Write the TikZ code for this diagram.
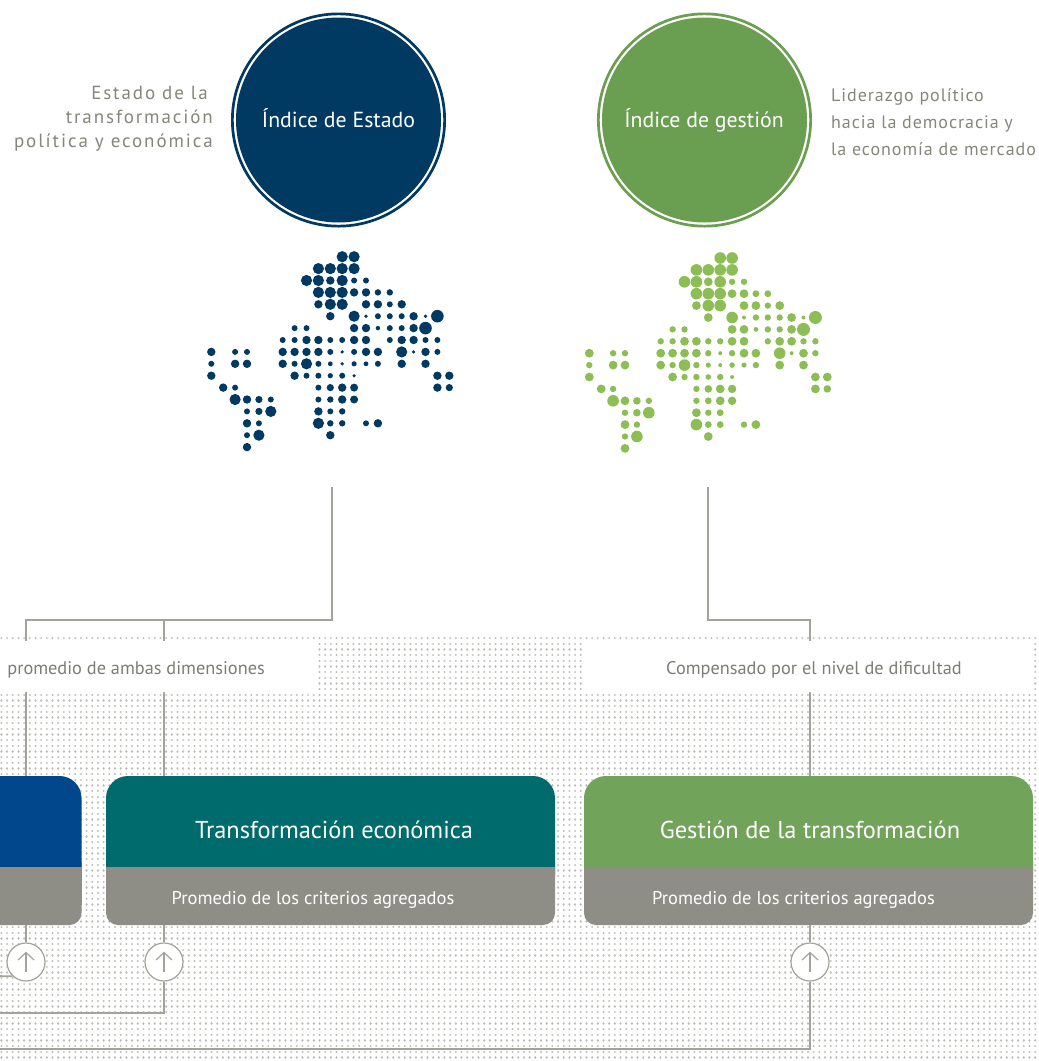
\documentclass[tikz,border=0pt]{standalone}
\usepackage{fontspec}
\setmainfont{PT Sans}
\newfontfamily\sideL[LetterSpace=10]{PT Sans}
\newfontfamily\sideR[LetterSpace=5.2]{PT Sans}
\usetikzlibrary{calc}
\definecolor{navy}{HTML}{003962}
\definecolor{boxblue}{HTML}{00478B}
\definecolor{tealc}{HTML}{006B6C}
\definecolor{greenc}{HTML}{6A9E50}
\definecolor{greenmap}{HTML}{8DBE55}
\definecolor{greenbox}{HTML}{72A35A}
\definecolor{grayc}{HTML}{8F8E86}
\definecolor{sidec}{HTML}{86867C}
\definecolor{bandc}{HTML}{7D7D75}
\definecolor{linec}{HTML}{A3A39B}
\definecolor{dotc}{HTML}{BEBEB8}
\def\maplist{0/{11/5.6,12/5.6},
1/{9/5.6,10/5.6,11/5.6,12/5.6},
2/{8/5.6,9/5.6,10/4.2,11/5.6,12/3.0,13/3.0},
3/{9/5.6,10/5.6,11/5.6,12/4.2,13/4.2,14/3.2,15/3.2},
4/{9/4.2,10/5.6,11/5.6,13/4.2,14/4.2,15/3.0,16/4.2},
5/{10/4.2,12/5.6,13/1.8,14/3.0,15/3.0,16/3.0,17/4.2,18/1.8,19/6.3},
6/{7/3.0,8/3.0,12/4.2,13/4.2,14/2.2,15/3.0,16/3.0,17/4.2,18/6.3},
7/{6/3.0,7/3.0,8/4.2,9/4.2,10/3.0,11/3.0,12/4.2,13/4.2,15/3.0,16/4.2,17/4.2,18/3.0,19/3.0},
8/{0/4.2,2/3.0,3/3.0,6/4.2,7/4.2,8/4.2,9/4.2,10/3.0,11/1.8,12/3.0,13/4.2,14/4.2,16/5.6,17/1.8,18/4.2,19/3.0},
9/{0/3.0,2/4.2,3/4.2,6/4.2,7/3.0,8/5.6,9/3.0,10/2.4,11/1.8,12/2.6,13/2.4,14/3.0,16/4.2,18/4.2},
10/{0/4.2,7/4.2,8/3.0,9/3.0,10/2.6,11/3.0,12/1.8,19/4.2,20/4.2},
11/{1/4.2,2/3.0,9/3.0,10/3.6,11/4.2,12/4.0,19/4.2,20/3.6},
12/{2/5.6,3/4.2,4/3.6,5/3.0,9/3.0,10/3.2,11/4.2,12/4.0},
13/{3/3.0,4/3.6,5/5.6,9/4.2,10/3.0,11/3.2},
14/{3/4.2,4/3.0,9/5.6,10/3.2,11/3.2,13/3.0,14/4.2},
15/{3/3.0,4/5.6,10/4.2},
16/{3/4.2}}
\newcommand\dotmap[4]{%
  \foreach \r/\row in \maplist {%
    \foreach \c/\s in \row {%
      \fill[#3] ({#1+\c*11.9},{#2+\r*11.9}) circle[radius={\s+#4}];
    }%
  }%
}
\tikzset{
  conn/.style={draw=linec, line width=1.8pt},
  dotrow/.style={draw=dotc, line width=2.3pt, line cap=round, dash pattern=on 0.01pt off 5.67pt},
  ring/.style={circle, draw=#1, line width=2.7pt, minimum size=212.3pt, inner sep=0pt, outer sep=0pt},
  disc/.style={circle, fill=#1, minimum size=205pt, inner sep=0pt, outer sep=0pt},
  boxanchor/.style={rectangle, inner sep=0pt, outer sep=0pt},
  titlew/.style={text=white, inner sep=0pt, font=\fontsize{21.8}{24}\selectfont},
  boxtitle/.style={text=white, inner sep=0pt, font=\fontsize{24.4}{28}\selectfont},
  boxsub/.style={text=white, inner sep=0pt, font=\fontsize{18.5}{22}\selectfont},
  bandtext/.style={text=bandc, inner sep=0pt, font=\fontsize{18.3}{22}\selectfont},
  sidetxtL/.style={text=sidec, inner sep=0pt, font=\sideL\fontsize{19}{22}\selectfont},
  sidetxtR/.style={text=sidec, inner sep=0pt, font=\sideR\fontsize{18}{22}\selectfont},
  upcirc/.style={circle, draw=linec, line width=1.2pt, fill=white, minimum size=38pt, inner sep=0pt,
    path picture={
      \draw[linec, line width=1.2pt] ([yshift=-9.5pt]path picture bounding box.center) -- ([yshift=9.5pt]path picture bounding box.center);
      \draw[linec, line width=1.2pt, line join=miter] ([xshift=-8pt,yshift=2pt]path picture bounding box.center) -- ([yshift=9.5pt]path picture bounding box.center) -- ([xshift=8pt,yshift=2pt]path picture bounding box.center);
    }},
}
\begin{document}
\begin{tikzpicture}[x=1pt,y=-1pt]
\useasboundingbox (0,0) rectangle (1039,1061);
\clip (0,0) rectangle (1039,1061);
\fill[white] (0,0) rectangle (1039,1061);

% dotted background
\foreach \k in {0,...,74} {
  \draw[dotrow] (1.4,{638+\k*5.67}) -- (1036,{638+\k*5.67});
}

% top circles
\node[ring=navy] (ringE) at (338.5,120) {};
\node[disc=navy] (discE) at (338.5,120) {};
\node[titlew, anchor=base] (textE) at (338.5,127.7) {Índice de Estado};
\node[ring=greenc] (ringG) at (704.5,120) {};
\node[disc=greenc] (discG) at (704.5,120) {};
\node[titlew, anchor=base] (textG) at (704,127.3) {Índice de gestión};

% side texts
\node[sidetxtL, anchor=base east] (sl1) at (208,99) {Estado de la};
\node[sidetxtL, anchor=base east] (sl2) at (213,123.3) {transformación};
\node[sidetxtL, anchor=base east] (sl3) at (213,147.3) {política y económica};
\node[sidetxtR, anchor=base west] (sr1) at (831,101) {Liderazgo político};
\node[sidetxtR, anchor=base west] (sr2) at (831,128) {hacia la democracia y};
\node[sidetxtR, anchor=base west] (sr3) at (831,155) {la economía de mercado};

% dot maps
\dotmap{211.3}{256.7}{navy}{0}
\dotmap{589.3}{258}{greenmap}{0.2}

% box anchors
\node[boxanchor, minimum width=451.5pt, minimum height=149pt] (pobox) at (-144.25,850.5) {};
\node[boxanchor, minimum width=449pt, minimum height=149pt] (tebox) at (330.5,850.5) {};
\node[boxanchor, minimum width=449pt, minimum height=149pt] (gebox) at (808.5,850.5) {};

% small arrow circles
\node[upcirc] (c1) at (26,962) {};
\node[upcirc] (c2) at (164,962) {};
\node[upcirc] (c3) at (810,962) {};

% upper connectors
\coordinate (estart) at (332,487);
\coordinate (eknee) at (332,620);
\coordinate (gstart) at (708,487);
\coordinate (gknee) at (708,620);
\draw[conn] (estart) -- (eknee) -| (pobox.north -| c1);
\draw[conn] (eknee -| c2) -- (tebox.north -| c2);
\draw[conn] (gstart) -- (gknee) -| (gebox.north -| c3);

% white label bands
\fill[white, rounded corners=3] (-10,641) rectangle (317,692);
\fill[white, rounded corners=3] (585,641) rectangle (1031.5,692);
\node[bandtext, anchor=base east] (lbl1) at (265,674) {promedio de ambas dimensiones};
\node[bandtext, anchor=base] (lbl2) at (814,674) {Compensado por el nivel de dificultad};

% boxes
\fill[grayc, rounded corners=12] (-370,850) rectangle (81.5,925);
\fill[boxblue, rounded corners=22] (-370,776) rectangle (81.5,897);
\fill[grayc] (-370,867) rectangle (81.5,905);

\fill[grayc, rounded corners=12] (106,850) rectangle (555,925);
\fill[tealc, rounded corners=22] (106,776) rectangle (555,897);
\fill[grayc] (106,867) rectangle (555,905);

\fill[grayc, rounded corners=12] (584,850) rectangle (1033,925);
\fill[greenbox, rounded corners=22] (584,776) rectangle (1033,897);
\fill[grayc] (584,867) rectangle (1033,905);

\node[boxtitle, anchor=base] (tetitle) at (334,838) {Transformación económica};
\node[boxsub, anchor=base] (tesub) at (313,904) {Promedio de los criterios agregados};
\node[boxtitle, anchor=base] (getitle) at (810,838) {Gestión de la transformación};
\node[boxsub, anchor=base] (gesub) at (793.5,904) {Promedio de los criterios agregados};

% lower connectors
\coordinate (out1) at (-5,976);
\coordinate (out2) at (-5,1013);
\coordinate (out3) at (-5,1049);
\draw[conn] (pobox.south -| c1) -- (c1);
\draw[conn] (tebox.south -| c2) -- (c2);
\draw[conn] (gebox.south -| c3) -- (c3);
\draw[conn] (out1) -- (c1.227);
\draw[conn] (c2) |- (out2);
\draw[conn] (c3) |- (out3);
\end{tikzpicture}
\end{document}
